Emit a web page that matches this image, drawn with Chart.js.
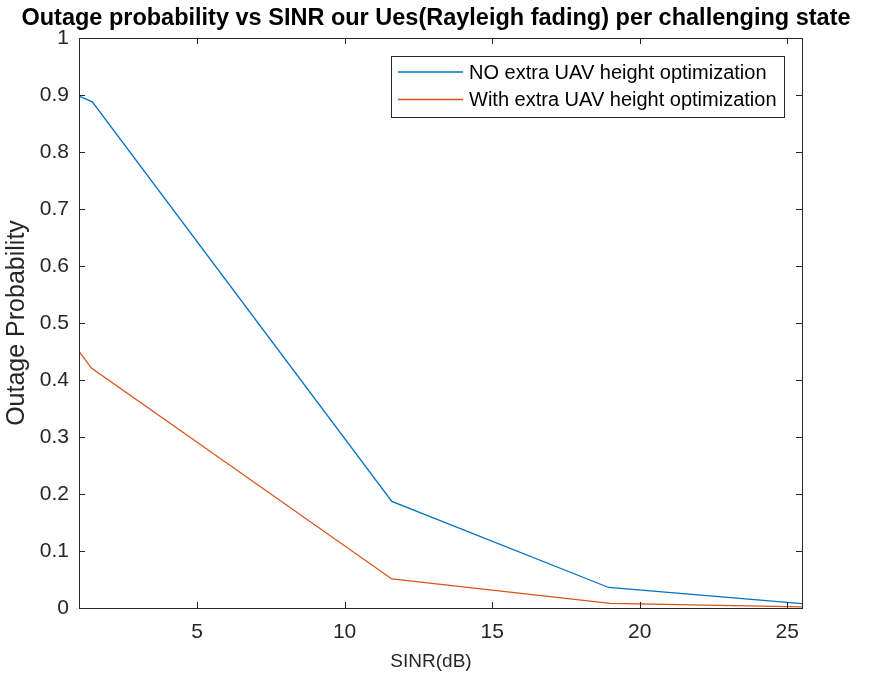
<!DOCTYPE html>
<html>
<head>
<meta charset="utf-8">
<script src="https://cdn.jsdelivr.net/npm/chart.js@4"></script>
<style>
  html, body { margin: 0; padding: 0; background: #fff; }
  #wrap { width: 872px; height: 677px; }
</style>
</head>
<body>
<div id="wrap"><canvas id="chart" width="872" height="677"></canvas></div>
<script>
// data
const noOptX = [1, 1.45, 11.6, 18.95, 25.5];
const noOptY = [0.898, 0.888, 0.187, 0.036, 0.0075];
const withOptX = [1, 1.42, 11.6, 19.0, 25.5];
const withOptY = [0.45, 0.421, 0.051, 0.008, 0.002];
const xTicks = [5, 10, 15, 20, 25];
const yTicks = [0, 0.1, 0.2, 0.3, 0.4, 0.5, 0.6, 0.7, 0.8, 0.9, 1];

const FONT = '"Liberation Sans", Arial, Helvetica, sans-serif';
const INK = '#262626';
const BLUE = '#0072BD';
const ORANGE = '#D95319';

const pts = (xs, ys) => xs.map((x, i) => ({ x, y: ys[i] }));

// MATLAB-like box, inward ticks, title, x label and legend
const matlabAxes = {
  id: 'matlabAxes',
  afterDraw(chart) {
    const { ctx, chartArea: a, scales } = chart;
    ctx.save();
    ctx.strokeStyle = INK;
    ctx.lineWidth = 1;
    ctx.strokeRect(a.left + 0.5, a.top + 0.5, a.right - a.left, a.bottom - a.top);
    ctx.beginPath();
    scales.x.ticks.forEach(t => {
      const px = Math.round(scales.x.getPixelForValue(t.value)) + 0.5;
      ctx.moveTo(px, a.bottom); ctx.lineTo(px, a.bottom - 6);
      ctx.moveTo(px, a.top); ctx.lineTo(px, a.top + 6);
    });
    scales.y.ticks.forEach(t => {
      const py = Math.round(scales.y.getPixelForValue(t.value)) + 0.5;
      ctx.moveTo(a.left, py); ctx.lineTo(a.left + 6, py);
      ctx.moveTo(a.right, py); ctx.lineTo(a.right - 6, py);
    });
    ctx.stroke();

    // title
    ctx.fillStyle = '#000';
    ctx.font = 'bold 23.5px ' + FONT;
    ctx.textAlign = 'center';
    ctx.textBaseline = 'middle';
    ctx.fillText('Outage probability vs SINR our Ues(Rayleigh fading) per challenging state', 436, 19);

    // x label
    ctx.fillStyle = INK;
    ctx.font = '19px ' + FONT;
    ctx.fillText('SINR(dB)', 431, 662);

    // legend
    const lx = 391, ly = 56, lw = 393, lh = 61;
    ctx.fillStyle = '#fff';
    ctx.fillRect(lx, ly, lw, lh);
    ctx.strokeStyle = INK;
    ctx.strokeRect(lx + 0.5, ly + 0.5, lw, lh);
    ctx.font = '20px ' + FONT;
    ctx.textAlign = 'left';
    chart.data.datasets.forEach((ds, i) => {
      const y = 72 + i * 27.5;
      ctx.strokeStyle = ds.borderColor;
      ctx.lineWidth = 1.3;
      ctx.beginPath();
      ctx.moveTo(398, y); ctx.lineTo(463, y);
      ctx.stroke();
      ctx.fillStyle = '#000';
      ctx.fillText(ds.label, 469, y + 1);
    });
    ctx.restore();
  }
};

new Chart(document.getElementById('chart'), {
  type: 'line',
  data: {
    datasets: [
      { label: 'NO extra UAV height optimization', data: pts(noOptX, noOptY),
        borderColor: BLUE, borderWidth: 1.3, pointRadius: 0, tension: 0 },
      { label: 'With extra UAV height optimization', data: pts(withOptX, withOptY),
        borderColor: ORANGE, borderWidth: 1.3, pointRadius: 0, tension: 0 },
    ],
  },
  options: {
    responsive: false,
    animation: false,
    layout: { padding: { top: 38, right: 70, left: 0, bottom: 0 } },
    plugins: { legend: { display: false }, title: { display: false }, tooltip: { enabled: false } },
    scales: {
      x: {
        type: 'linear', min: 1, max: 25.5,
        afterBuildTicks: s => { s.ticks = xTicks.map(v => ({ value: v })); },
        afterFit: s => { s.height = 69; },
        grid: { display: false, drawTicks: false },
        border: { display: false },
        ticks: { color: INK, font: { family: FONT, size: 21 }, padding: 12, maxRotation: 0 },
      },
      y: {
        min: 0, max: 1,
        afterBuildTicks: s => { s.ticks = yTicks.map(v => ({ value: v })); },
        afterFit: s => { s.width = 79; },
        grid: { display: false, drawTicks: false },
        border: { display: false },
        ticks: { color: INK, font: { family: FONT, size: 21 }, padding: 10,
                 callback: v => String(Math.round(v * 10) / 10) },
        title: { display: true, text: 'Outage Probability', color: INK, font: { family: FONT, size: 25 }, padding: { top: 2, bottom: 0 } },
      },
    },
  },
  plugins: [matlabAxes],
});
</script>
</body>
</html>
